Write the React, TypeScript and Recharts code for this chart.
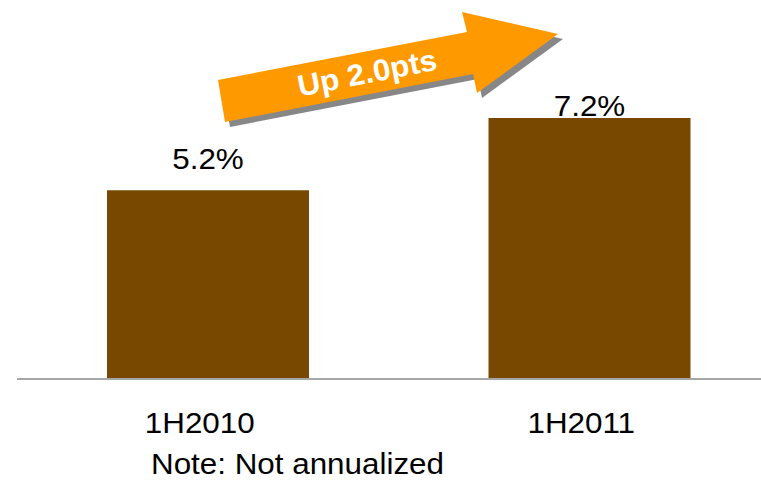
import React from 'react';
import { BarChart, Bar, XAxis, YAxis, LabelList } from 'recharts';

// Half-year ratio, in percent
const periods = ['1H2010', '1H2011'];
const ratios = [5.2, 7.2];
const yDomain = [0, 10];
const note = 'Note: Not annualized';

const data = periods.map((period, i) => ({ period, ratio: ratios[i] }));
const change = (ratios[1] - ratios[0]).toFixed(1);

const FONT = '"Liberation Sans", Arial, Helvetica, sans-serif';
const BAR_COLOR = '#784800';
const ARROW_COLOR = '#FF9900';
const SHADOW_COLOR = '#878787';
// slightly wide lettering used throughout the slide
const STRETCH = 1.046;

// gap between a bar's top and its value label
const LABEL_GAPS = [21, 2];

type WideTextProps = {
  x: number;
  y: number;
  anchor?: 'start' | 'middle' | 'end';
  size?: number;
  weight?: string;
  fill?: string;
  rotate?: number;
  children: React.ReactNode;
};

const WideText = ({ x, y, anchor = 'middle', size = 30, weight = 'normal', fill = '#000', rotate = 0, children }: WideTextProps) => (
  <text
    x={0}
    y={0}
    textAnchor={anchor}
    fontSize={size}
    fontWeight={weight}
    fontFamily={FONT}
    fill={fill}
    transform={`translate(${x},${y}) rotate(${rotate}) scale(${STRETCH},1)`}
  >
    {children}
  </text>
);

const ValueLabel = (props: any) => {
  const { x, y, width, value, index } = props;
  const gap = LABEL_GAPS[index] ?? 8;
  return (
    <WideText x={Number(x) + Number(width) / 2} y={Number(y) - gap}>
      {`${Number(value).toFixed(1)}%`}
    </WideText>
  );
};

const PeriodTick = (props: any) => {
  const { x, y, payload } = props;
  return (
    <WideText x={Number(x) - 8} y={Number(y) + 47}>
      {payload.value}
    </WideText>
  );
};

// Arrow outline: shaft tail, shaft top, head barb, tip, head barb, shaft bottom
const arrowPoints = '218,80 467,32 462,12 558,34 477,93 473,74 225,122';

export default function App() {
  return (
    <div
      style={{
        position: 'fixed',
        left: 0,
        top: 0,
        width: 761,
        height: 481,
        overflow: 'hidden',
        background: '#fff',
      }}
    >
      <BarChart
        width={780}
        height={481}
        data={data}
        margin={{ top: 17, right: 0, left: 17, bottom: 0 }}
      >
        <YAxis hide domain={yDomain} />
        <XAxis
          dataKey="period"
          height={103}
          tickLine={false}
          axisLine={{ stroke: '#a6a6a6', strokeWidth: 2, transform: 'translate(0,1)' }}
          tick={<PeriodTick />}
          interval={0}
        />
        <Bar dataKey="ratio" fill={BAR_COLOR} barSize={202} isAnimationActive={false}>
          <LabelList dataKey="ratio" content={<ValueLabel />} />
        </Bar>
      </BarChart>
      <svg
        width={761}
        height={481}
        style={{ position: 'absolute', left: 0, top: 0, pointerEvents: 'none' }}
      >
        <polygon points={arrowPoints} fill={SHADOW_COLOR} transform="translate(5,5)" />
        <polygon points={arrowPoints} fill={ARROW_COLOR} />
        <WideText x={369} y={83} weight="bold" fill="#fff" rotate={-11}>
          {`Up ${change}pts`}
        </WideText>
        <WideText x={151} y={474} anchor="start">
          {note}
        </WideText>
      </svg>
    </div>
  );
}
